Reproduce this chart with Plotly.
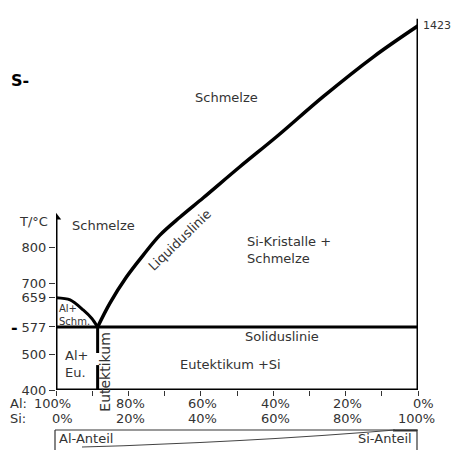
import plotly.graph_objects as go

# ---------------- data ----------------
si_liquidus = [11.5, 14.9, 19.5, 24.1, 28.7, 34.3, 40.7, 50.8, 61.0, 73.8, 87.7, 100.0]
t_liquidus = [577, 644, 718, 779, 835, 886, 940, 1027, 1112, 1224, 1336, 1423]
si_al_liquidus = [0.0, 3.9, 7.5, 9.9, 11.5]
t_al_liquidus = [659, 653, 625, 601, 577]
t_eutectic = 577
si_eutectic = 11.5
t_al_melt = 659
t_si_melt = 1423
t_min = 400
y_tick_vals = [400, 500, 577, 659, 700, 800]
x_tick_vals = [0, 20, 40, 60, 80, 100]
al_labels = ["100%", "80%", "60%", "40%", "20%", "0%"]
si_labels = ["0%", "20%", "40%", "60%", "80%", "100%"]

# page body has an 8px margin: figure is placed at screen (8, 8)
OFF = 8
W, H = 463 - OFF, 450 - OFF
ML, MR, MT, MB = 56 - OFF, 463 - 418, 10 - OFF, 450 - 390
Y_RANGE = [400, 1467.4]

def px(p):   # screen pixel x -> paper
    return (p - 56) / (418 - 56)

def py(p):   # screen pixel y -> paper
    return (390 - p) / (390 - 10)

TXT = dict(family="DejaVu Sans", size=13, color="#333333")
SMALL = dict(family="DejaVu Sans", size=10, color="#333333")
LINE = dict(color="black", width=3)

fig = go.Figure()

# liquidus (Si side)
fig.add_trace(go.Scatter(x=si_liquidus, y=t_liquidus, mode="lines",
                         line=dict(color="black", width=3.5, shape="spline", smoothing=1.0),
                         hoverinfo="skip"))
# liquidus (Al side)
fig.add_trace(go.Scatter(x=si_al_liquidus, y=t_al_liquidus, mode="lines",
                         line=dict(color="black", width=3, shape="spline", smoothing=0.8),
                         hoverinfo="skip"))
# solidus line
fig.add_trace(go.Scatter(x=[0, 100], y=[t_eutectic, t_eutectic], mode="lines", line=LINE, hoverinfo="skip"))
# bottom line
fig.add_trace(go.Scatter(x=[0, 100], y=[t_min, t_min], mode="lines", line=LINE, hoverinfo="skip"))
# right border (pure Si)
fig.add_trace(go.Scatter(x=[100, 100], y=[t_min, t_si_melt + 20], mode="lines", line=LINE, hoverinfo="skip"))
# temperature axis with arrow
fig.add_trace(go.Scatter(x=[0, 0], y=[t_min, 880], mode="lines", line=LINE, hoverinfo="skip"))
fig.add_trace(go.Scatter(x=[0], y=[885], mode="markers",
                         marker=dict(symbol="triangle-up", size=9, color="black"), hoverinfo="skip"))
# eutectic vertical (with gap)
fig.add_trace(go.Scatter(x=[si_eutectic, si_eutectic, None, si_eutectic, si_eutectic],
                         y=[t_eutectic, 504, None, 470, t_min], mode="lines",
                         line=LINE, hoverinfo="skip"))

ann = []
def A(x, y, text, font=TXT, **kw):
    d = dict(x=x, y=y, text=text, showarrow=False, font=font, yanchor="middle")
    d.update(kw)
    ann.append(d)

A(47.2, 1223, "Schmelze")
A(100, t_si_melt, str(t_si_melt), xanchor="left", xshift=3,
  font=dict(family="DejaVu Sans", size=11, color="#333333"))
A(0, 872, "T/°C", xanchor="right", xshift=-6)
A(13.1, 863, "Schmelze")
A(34.0, 821, "Liquiduslinie", textangle=-44)
A(52.2, 792, "Si-Kristalle +<br>Schmelze", xanchor="left", align="left")
A(0.3, 611, "Al+<br>Schm.", xanchor="left", align="left", font=SMALL)
A(62.3, 549, "Soliduslinie")
A(1.9, 473, "Al+<br>Eu.", xanchor="left", align="left")
A(13.6, 452, "Eutektikum", textangle=-90,
  font=dict(family="DejaVu Sans", size=14, color="#333333"))
A(48.1, 473, "Eutektikum +Si")

# x tick labels (two rows)
shift1 = {0: -4, 100: 5}
shift2 = {0: 6, 100: -2}
for v, a_lab, s_lab in zip(x_tick_vals, al_labels, si_labels):
    A(v, py(404), a_lab, yref="paper", xshift=shift1.get(v, 2))
    A(v, py(418), s_lab, yref="paper", xshift=shift2.get(v, 2))
A(px(8), py(404), "Al:", xref="paper", yref="paper", xanchor="left")
A(px(8), py(418), "Si:", xref="paper", yref="paper", xanchor="left")

# bottom share box labels
A(px(57), py(438), "Al-Anteil", xref="paper", yref="paper", xanchor="left")
A(px(414), py(438), "Si-Anteil", xref="paper", yref="paper", xanchor="right")

# page fragments at the left edge
A(px(9), py(80), "<b>S-</b>", xref="paper", yref="paper", xanchor="left",
  font=dict(family="DejaVu Sans", size=16, color="black"))
A(px(9), py(327), "<b>-</b>", xref="paper", yref="paper", xanchor="left",
  font=dict(family="DejaVu Sans", size=16, color="black"))

for a in ann:
    a.setdefault("xref", "x")
    a.setdefault("yref", "y")

shapes = [
    dict(type="line", xref="paper", yref="paper", x0=px(55), x1=px(418), y0=py(430), y1=py(430),
         line=dict(color="#777777", width=1.5)),
    dict(type="line", xref="paper", yref="paper", x0=px(393), x1=px(417), y0=py(430.5), y1=py(430.5),
         line=dict(color="#333333", width=2)),
    dict(type="line", xref="paper", yref="paper", x0=px(55), x1=px(55), y0=py(430), y1=py(452),
         line=dict(color="#333333", width=1.2)),
    dict(type="line", xref="paper", yref="paper", x0=px(417), x1=px(417), y0=py(430), y1=py(452),
         line=dict(color="#333333", width=1.2)),
    dict(type="path", xref="paper", yref="paper",
         path=f"M {px(82)},{py(447)} Q {px(250)},{py(442)} {px(395)},{py(430)}",
         line=dict(color="#444444", width=1.2)),
]

fig.update_layout(
    width=W, height=H,
    margin=dict(l=ML, r=MR, t=MT, b=MB, autoexpand=False),
    paper_bgcolor="white", plot_bgcolor="white",
    showlegend=False,
    annotations=ann, shapes=shapes,
    xaxis=dict(range=[0, 100], showgrid=False, zeroline=False, showline=False,
               tickmode="array", tickvals=list(range(0, 101, 10)), ticks="outside",
               ticklen=5, tickwidth=1, tickcolor="#333333", showticklabels=False, fixedrange=True),
    yaxis=dict(range=Y_RANGE, showgrid=False, zeroline=False, showline=False,
               tickmode="array", tickvals=y_tick_vals, ticks="outside",
               ticklen=6, tickwidth=1, tickcolor="#333333",
               tickfont=dict(family="DejaVu Sans", size=13, color="#333333"), fixedrange=True),
)

fig.write_html("out.html", config=dict(displayModeBar=False))
